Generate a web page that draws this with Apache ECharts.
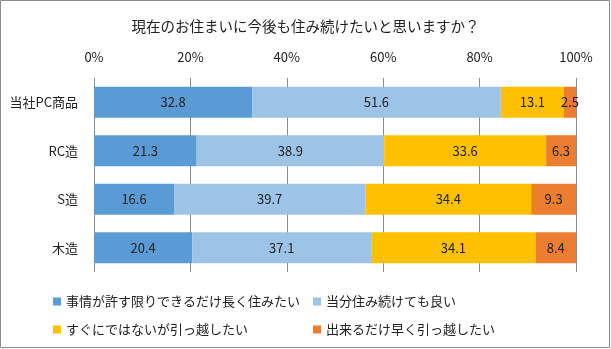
<!DOCTYPE html>
<html><head><meta charset="utf-8">
<script src="https://cdn.jsdelivr.net/npm/echarts@6/dist/echarts.min.js"></script>
<style>html,body{margin:0;padding:0;background:#fff}#c{width:611px;height:349px}</style>
</head><body><div id="c"></div>
<script>
const title = '現在のお住まいに今後も住み続けたいと思いますか？';
const categories = ['当社PC商品', 'RC造', 'S造', '木造'];
const seriesNames = ['事情が許す限りできるだけ長く住みたい', '当分住み続けても良い', 'すぐにではないが引っ越したい', '出来るだけ早く引っ越したい'];
const longStay = [32.8, 21.3, 16.6, 20.4];
const stayForNow = [51.6, 38.9, 39.7, 37.1];
const moveLater = [13.1, 33.6, 34.4, 34.1];
const moveSoon = [2.5, 6.3, 9.3, 8.4];
const colors = ['#5B9BD5', '#9DC3E6', '#FFC000', '#ED7D31'];
const values = [longStay, stayForNow, moveLater, moveSoon];
const FONT = '"Noto Sans CJK JP", sans-serif';

const chart = echarts.init(document.getElementById('c'), null, {renderer: 'canvas'});
const legendPos = [[48, 290], [308, 290], [48, 318], [308, 318]];
chart.setOption({
  animation: false,
  textStyle: {fontFamily: FONT},
  title: {text: title, left: 'center', top: 14, textStyle: {fontSize: 14.5, fontWeight: 'normal', color: '#222', fontFamily: FONT}},
  graphic: [{type: 'rect', shape: {x: 0.5, y: 0.5, width: 609, height: 347}, style: {fill: 'none', stroke: '#8c8c8c', lineWidth: 1}, silent: true}],
  legend: seriesNames.map((n, i) => ({
    data: [n], left: legendPos[i][0], top: legendPos[i][1], itemWidth: 8, itemHeight: 8, itemGap: 4,
    icon: 'rect', textStyle: {fontSize: 13, color: '#222', fontFamily: FONT}, selectedMode: false
  })),
  grid: {left: 94, right: 35, top: 78, bottom: 77, containLabel: false},
  xAxis: {
    type: 'value', position: 'top', min: 0, max: 100, interval: 20,
    axisLabel: {formatter: '{value}%', fontSize: 13, color: '#222', margin: 14},
    axisLine: {show: false}, axisTick: {show: false},
    splitLine: {lineStyle: {color: '#8c8c8c', width: 1}}
  },
  yAxis: {
    type: 'category', data: categories, inverse: true,
    axisLabel: {fontSize: 13, color: '#222', margin: 16},
    axisLine: {show: false}, axisTick: {show: false}
  },
  series: seriesNames.map((n, i) => ({
    name: n, type: 'bar', stack: 'total', data: values[i], barCategoryGap: '36%',
    itemStyle: {color: colors[i]},
    label: {show: true, position: 'inside', fontSize: 13, color: '#222', formatter: p => p.value.toFixed(1)}
  }))
});
</script></body></html>
